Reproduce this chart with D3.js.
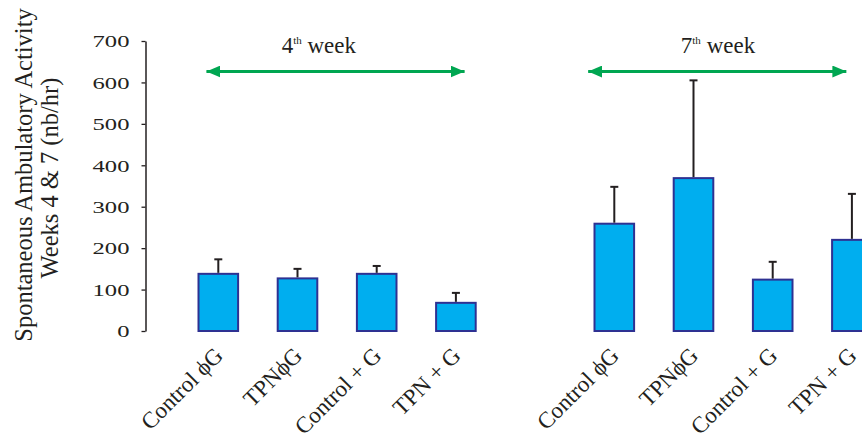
<!DOCTYPE html>
<html>
<head>
<meta charset="utf-8">
<script src="https://cdn.jsdelivr.net/npm/d3@7"></script>
</head>
<body style="margin:0">
<svg id="chart" width="862" height="442"></svg>
<script>
// Treatment groups, shown once per week
const categories = ["Control \u03D5G", "TPN\u03D5G", "Control + G", "TPN + G"];
const weeks = ["4", "7"];
// Mean activity (nb/hr) and standard deviation per week
const week4Means = [138, 127, 138, 68];
const week4SD = [35, 23, 19, 24];
const week7Means = [259, 369, 124, 220];
const week7SD = [89, 236, 43, 111];
const yTicks = [0, 100, 200, 300, 400, 500, 600, 700];
// Week brackets, in slot units along the x axis
const bracketFrom = [-0.15, 4.67];
const bracketTo = [3.11, 7.93];
const bracketLabelAt = [0.80, 5.84];

const serif = '"Liberation Serif"';
const ink = "#231F20";
const green = "#00A651";
const svg = d3.select("#chart");

function serifText(sel, size) {
  return sel.attr("font-family", "Liberation Serif")
    .style("font-family", serif)
    .style("font-size", size + "px")
    .style("fill", ink);
}

const rows = [];
[week4Means, week7Means].forEach((means, w) => {
  const sds = w === 0 ? week4SD : week7SD;
  means.forEach((m, i) => rows.push({ week: w, cat: categories[i], mean: m, sd: sds[i], slot: w * 5 + i }));
});

const x = d3.scaleBand().domain(d3.range(9)).range([178.7, 891.5]).paddingInner(0.5).paddingOuter(0.25);
const slotX = d3.scaleLinear().domain([0, 1]).range([x(0) + x.bandwidth() / 2, x(1) + x.bandwidth() / 2]);
const y = d3.scaleLinear().domain([0, 700]).range([331, 41]);

// y axis
const yAxis = svg.append("g")
  .attr("transform", "translate(145.5,0)")
  .call(d3.axisLeft(y).tickValues(yTicks).tickSize(4).tickSizeOuter(0));
yAxis.attr("font-family", "Liberation Serif");
yAxis.select(".domain").attr("stroke", ink).attr("stroke-width", 1.5);
yAxis.selectAll(".tick line").attr("stroke", ink).attr("stroke-width", 1.3);
serifText(yAxis.selectAll(".tick text"), 17)
  .attr("x", 0)
  .attr("dy", "0.34em")
  .attr("transform", "translate(-16,0) scale(1.45,1)");

// y title (two lines)
const yTitle = ["Spontaneous Ambulatory Activity", "Weeks 4 & 7 (nb/hr)"];
const yTitleX = [32, 58];
const yTitleY = [175, 178];
serifText(svg.selectAll("text.ytitle").data(yTitle).join("text"), 24.5)
  .attr("class", "ytitle")
  .attr("transform", (d, i) => `translate(${yTitleX[i]},${yTitleY[i]}) rotate(-90)`)
  .attr("text-anchor", "middle")
  .text(d => d);

// bars
svg.selectAll("rect.bar").data(rows).join("rect")
  .attr("class", "bar")
  .attr("x", d => x(d.slot))
  .attr("width", x.bandwidth())
  .attr("y", d => y(d.mean))
  .attr("height", d => y(0) - y(d.mean))
  .attr("fill", "#00AEEF")
  .attr("stroke", "#2E3192")
  .attr("stroke-width", 2);

// error bars (upper only)
const err = svg.selectAll("g.err").data(rows).join("g").attr("class", "err");
err.append("line")
  .attr("x1", d => x(d.slot) + x.bandwidth() / 2)
  .attr("x2", d => x(d.slot) + x.bandwidth() / 2)
  .attr("y1", d => y(d.mean) - 1)
  .attr("y2", d => y(d.mean + d.sd))
  .attr("stroke", ink).attr("stroke-width", 2);
err.append("line")
  .attr("x1", d => x(d.slot) + x.bandwidth() / 2 - 4)
  .attr("x2", d => x(d.slot) + x.bandwidth() / 2 + 4)
  .attr("y1", d => y(d.mean + d.sd))
  .attr("y2", d => y(d.mean + d.sd))
  .attr("stroke", ink).attr("stroke-width", 2);

// category labels
serifText(svg.selectAll("text.cat").data(rows).join("text"), 23)
  .attr("class", "cat")
  .attr("transform", d => `translate(${x(d.slot) + x.bandwidth() / 2 + 6},357) rotate(-45)`)
  .attr("text-anchor", "end")
  .text(d => d.cat);

// week brackets with arrowheads
const defs = svg.append("defs");
defs.append("marker")
  .attr("id", "arrow")
  .attr("viewBox", "0 0 14 12")
  .attr("refX", 14).attr("refY", 6)
  .attr("markerWidth", 14).attr("markerHeight", 12)
  .attr("markerUnits", "userSpaceOnUse")
  .attr("orient", "auto-start-reverse")
  .append("path").attr("d", "M0,0 L14,6 L0,12 Z").attr("fill", green);

const bracketY = 71.5;
weeks.forEach((wk, w) => {
  svg.append("line")
    .attr("x1", slotX(bracketFrom[w])).attr("x2", slotX(bracketTo[w]))
    .attr("y1", bracketY).attr("y2", bracketY)
    .attr("stroke", green).attr("stroke-width", 3)
    .attr("marker-start", "url(#arrow)")
    .attr("marker-end", "url(#arrow)");
  const t = serifText(svg.append("text"), 23)
    .attr("x", slotX(bracketLabelAt[w]))
    .attr("y", 53)
    .attr("text-anchor", "start");
  t.append("tspan").text(wk);
  t.append("tspan").attr("dy", -9).style("font-size", "11px").text("th");
  t.append("tspan").attr("dy", 9).text(" week");
});
</script>
</body>
</html>
